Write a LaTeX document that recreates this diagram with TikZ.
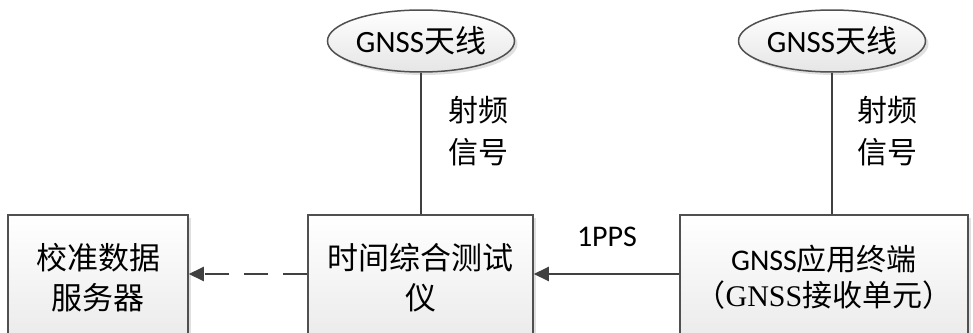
\documentclass[tikz,border=0pt]{standalone}
\usepackage{fontspec}
\setmainfont{Carlito}
\newfontfamily\cjk{Noto Sans CJK SC}
\newfontfamily\tnr{Liberation Serif}
\usetikzlibrary{arrows.meta,shadows,shapes.geometric}
\definecolor{linec}{HTML}{404040}
\definecolor{boxc}{HTML}{505050}
\begin{document}
\begin{tikzpicture}[x=1pt,y=-1pt,
  box/.style={draw=boxc, line width=1.5pt, top color=white, bottom color=black!8,
    minimum height=125pt, align=center, inner sep=0pt,
    drop shadow={shadow xshift=3pt, shadow yshift=-3pt, fill=black!30, opacity=.4},
    font=\fontsize{31}{40}\selectfont\cjk},
  ant/.style={ellipse, draw=boxc, line width=1.5pt, top color=white, bottom color=black!10,
    minimum width=187pt, minimum height=62pt, inner sep=0pt,
    drop shadow={shadow xshift=3pt, shadow yshift=-3pt, fill=black!30, opacity=.4},
    font=\fontsize{31}{36}\selectfont},
  lbl/.style={align=center, inner sep=0pt, font=\fontsize{30}{42}\selectfont\cjk},
  conn/.style={draw=linec, line width=2pt},
  tip/.style={-{Triangle[length=15pt,width=14pt]}}
]
\useasboundingbox (0,0) rectangle (973,332);
\begin{scope}
\clip (0,0) rectangle (973,332);
\node[box, minimum width=180pt] (l) at (98,277.5) {校准数据\\服务器};
\node[box, minimum width=225pt] (m) at (420.5,277.5) {时间综合测试\\仪};
\node[box, minimum width=288pt, font=\fontsize{30}{36}\selectfont] (r) at (824,277.5)
  {GNSS{\cjk 应用终端}\\{\cjk （}{\tnr GNSS}{\cjk 接收单元）}};
\node[ant] (a1) at (421,41) {GNSS{\cjk 天线}};
\node[ant] (a2) at (832,41) {GNSS{\cjk 天线}};

\draw[conn] (a1.south) -- (a1.south |- m.north);
\draw[conn] (a2.south) -- (a2.south |- r.north);

\node[lbl] (s1) at (478,131) {射频\\信号};
\node[lbl] (s2) at (887,131) {射频\\信号};

\draw[conn, tip] ([yshift=3.5pt]r.west) -- ([yshift=3.5pt]m.east);
\node[inner sep=0pt, font=\fontsize{30}{36}\selectfont] (pps) at (607,237) {1PPS};
\draw[conn, tip, dash pattern=on 24pt off 15pt] ([yshift=3.5pt]m.west) -- ([yshift=3.5pt]l.east);
\end{scope}
\end{tikzpicture}
\end{document}
